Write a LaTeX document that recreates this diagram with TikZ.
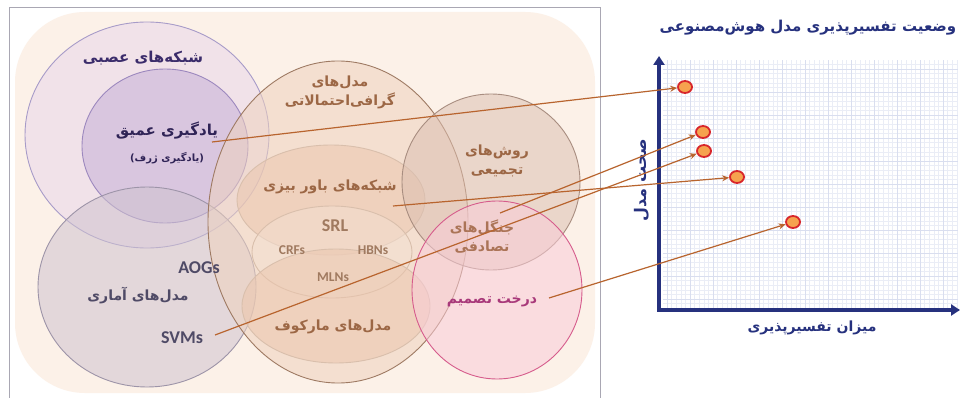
\documentclass[tikz,border=0pt]{standalone}
\usepackage{fontspec}
\usetikzlibrary{arrows.meta,shapes.geometric}
\TeXXeTstate=1
\newfontfamily\fa[Script=Arabic]{DejaVu Sans}
\newfontfamily\lat{Carlito}
\newcommand{\fatxt}[1]{{\fa\bfseries\beginR #1\endR}}
\definecolor{frameg}{HTML}{A9A7B3}
\definecolor{peach}{HTML}{FCF1E8}
\definecolor{neurf}{HTML}{E8D6EA}
\definecolor{neurd}{HTML}{A79BC8}
\definecolor{deepf}{HTML}{C7AFD8}
\definecolor{deepd}{HTML}{9C88BE}
\definecolor{statf}{HTML}{CFC3CF}
\definecolor{statd}{HTML}{9D94A8}
\definecolor{pgmf}{HTML}{EED2BE}
\definecolor{pgmd}{HTML}{9E7A63}
\definecolor{ensf}{HTML}{DCC0B2}
\definecolor{ensd}{HTML}{A88D80}
\definecolor{dtf}{HTML}{F9CCD8}
\definecolor{dtd}{HTML}{D65C8C}
\definecolor{bayf}{HTML}{EBC6AE}
\definecolor{bayd}{HTML}{D9BFAC}
\definecolor{tneur}{HTML}{3B2C6B}
\definecolor{tstat}{HTML}{4F4A66}
\definecolor{tbrown}{HTML}{9C6745}
\definecolor{tlight}{HTML}{A07A60}
\definecolor{tdt}{HTML}{A8397A}
\definecolor{navy}{HTML}{26317E}
\definecolor{arr}{HTML}{B8642E}
\definecolor{gmin}{HTML}{EAEDF6}
\definecolor{gmaj}{HTML}{D9DEEF}
\definecolor{ptf}{HTML}{F6A24E}
\definecolor{ptd}{HTML}{D8262B}
\tikzset{
  venn/.style={fill opacity=0.55, line width=0.9pt},
  lab/.style={font=\fontsize{14}{17}\selectfont, align=center, inner sep=0pt},
  labs/.style={font=\fontsize{10}{12}\selectfont, align=center, inner sep=0pt},
  latl/.style={font=\lat\bfseries\fontsize{18}{20}\selectfont, inner sep=0pt},
  latm/.style={font=\lat\bfseries\fontsize{13.5}{15}\selectfont, inner sep=0pt, text=tlight},
  link/.style={draw=arr, line width=1.2pt, -{Stealth[length=7pt,width=6pt]}},
  pt/.style={ellipse, draw=ptd, fill=ptf, line width=1.8pt, minimum width=14pt, minimum height=12pt, inner sep=0pt},
  axis/.style={draw=navy, line width=3.6pt, -{Triangle[length=9pt,width=11pt]}},
}
\begin{document}
\begin{tikzpicture}[x=1pt,y=-1pt]
\useasboundingbox (0,0) rectangle (960,398);
\fill[white] (0,0) rectangle (960,398);
% frame and background
\draw[frameg, line width=1pt] (9,8) -- (600,8) -- (600,402) (9,8) -- (9,402);
\fill[peach, rounded corners=70pt] (15,12) rectangle (595,393);
% venn shapes
\draw[venn, fill=neurf, draw=neurd] (147,135) ellipse [x radius=122, y radius=113];
\draw[venn, fill=deepf, draw=deepd] (165,146) ellipse [x radius=83, y radius=77];
\draw[venn, fill=statf, draw=statd] (147,287) ellipse [x radius=109, y radius=100];
\draw[venn, fill=pgmf, draw=pgmd] (338,222) ellipse [x radius=130, y radius=161];
\draw[venn, fill=bayf, draw=bayd] (331,200) ellipse [x radius=94, y radius=55];
\draw[venn, fill=pgmf!70!white, draw=bayd] (332,252) ellipse [x radius=80, y radius=46];
\draw[venn, fill=bayf, draw=bayd] (336,306) ellipse [x radius=94, y radius=57];
\draw[venn, fill=ensf, draw=ensd] (491,182) ellipse [x radius=89, y radius=88];
\draw[venn, fill=dtf, draw=dtd] (497,290) ellipse [x radius=85, y radius=89];
% labels
\node[lab, text=tneur, font=\fontsize{15}{17}\selectfont] (nn) at (143,58) {\fatxt{شبکه‌های عصبی}};
\node[lab, text=tneur!80!black, font=\fontsize{15}{17}\selectfont] (dl) at (167,131) {\fatxt{یادگیری عمیق}};
\node[labs, text=tneur!80!black] (dl2) at (167,158) {\fatxt{(یادگیری ژرف)}};
\node[lab, text=tbrown] (pgm) at (340,92) {\fatxt{مدل‌های}\\[2pt]\fatxt{گرافی‌احتمالاتی}};
\node[lab, text=tbrown] (ens) at (497,161) {\fatxt{روش‌های}\\[2pt]\fatxt{تجمیعی}};
\node[lab, text=tbrown] (bay) at (330,187) {\fatxt{شبکه‌های باور بیزی}};
\node[latl, text=tlight] (srl) at (335,226) {SRL};
\node[latm] (crf) at (292,250) {CRFs};
\node[latm] (hbn) at (373,250) {HBNs};
\node[latm] (mln) at (333,277) {MLNs};
\node[lab, text=tbrown] (mar) at (333,327) {\fatxt{مدل‌های مارکوف}};
\node[lab, text=tbrown!85!pink] (rf) at (482,237) {\fatxt{جنگل‌های}\\[2pt]\fatxt{تصادفی}};
\node[lab, text=tdt] (dt) at (492,301) {\fatxt{درخت تصمیم}};
\node[latl, text=tstat] (aog) at (199,268) {AOGs};
\node[lab, text=tstat] (stat) at (138,296) {\fatxt{مدل‌های آماری}};
\node[latl, text=tstat] (svm) at (182,338) {SVMs};
% chart
\draw[gmin, line width=0.4pt, step=4.6pt] (663,308) grid (958,60);
\draw[gmaj, line width=0.5pt, step=23pt] (663,308) grid (958,60);
\coordinate (o) at (659,310);
\coordinate (ytop) at (659,56);
\coordinate (xend) at (960,310);
\draw[axis] ([yshift=-1.8pt]o) -- (ytop);
\draw[axis] ([xshift=-1.8pt]o) -- (xend);
\node[lab, text=navy, font=\fontsize{15}{17}\selectfont] (title) at (808,28) {\fatxt{وضعیت تفسیرپذیری مدل هوش‌مصنوعی}};
\node[lab, text=navy] (xl) at (812,328) {\fatxt{میزان تفسیرپذیری}};
\node[lab, text=navy, rotate=90, font=\fontsize{16}{18}\selectfont] (yl) at (642,180) {\fatxt{صحت مدل}};
\node[pt] (p1) at (685,87) {};
\node[pt] (p2) at (703,132) {};
\node[pt] (p3) at (704,151) {};
\node[pt] (p4) at (737,177) {};
\node[pt] (p5) at (793,222) {};
% connectors
\coordinate (sdl) at (212,142);
\coordinate (srf) at (500,213);
\coordinate (ssvm) at (215,335);
\coordinate (sbay) at (393,206);
\coordinate (sdt) at (549,298);
\draw[link] (sdl) -- (p1);
\draw[link] (srf) -- (p2);
\draw[link] (ssvm) -- (p3);
\draw[link] (sbay) -- (p4);
\draw[link] (sdt) -- (p5);
\end{tikzpicture}
\end{document}
